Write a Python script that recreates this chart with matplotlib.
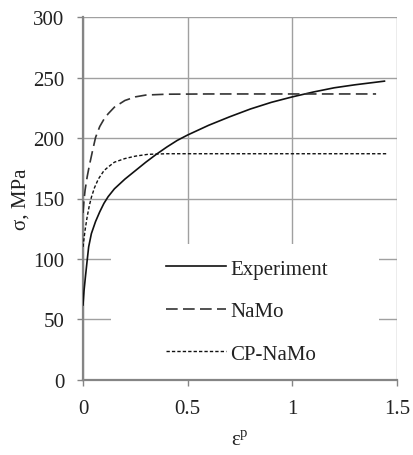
import matplotlib
matplotlib.use("Agg")
import matplotlib.pyplot as plt
from matplotlib.patches import Rectangle

plt.rcParams["font.family"] = ["Liberation Serif", "DejaVu Serif"]
plt.rcParams["mathtext.fontset"] = "custom"
plt.rcParams["mathtext.rm"] = "Liberation Serif"
plt.rcParams["font.size"] = 15

# plastic strain vs. flow stress
exp_strain = [0, 0.005, 0.012, 0.02, 0.027, 0.04, 0.06, 0.08, 0.1, 0.12, 0.15, 0.2,
              0.25, 0.3, 0.35, 0.4, 0.45, 0.5, 0.55, 0.6, 0.65, 0.7, 0.8, 0.9, 1.0,
              1.1, 1.2, 1.3, 1.44]
exp_stress = [62, 74, 86, 99, 110, 121, 131, 139, 146, 151.5, 158, 166,
              173, 180, 186.5, 192.5, 198, 202.5, 206.5, 210.5, 214, 217.5, 224, 229.5, 234,
              238, 241.5, 244, 247]

namo_strain = [0, 0.005, 0.01, 0.02, 0.03, 0.045, 0.06, 0.08, 0.1, 0.12, 0.15, 0.2,
               0.25, 0.3, 0.4, 0.6, 1.0, 1.40]
namo_stress = [138, 149, 157, 168, 177, 189, 200.5, 209.5, 215.5, 220, 225.5, 231,
               234, 235.5, 236.2, 236.4, 236.4, 236.4]

cp_strain = [0, 0.01, 0.02, 0.03, 0.04, 0.055, 0.073, 0.1, 0.12, 0.15, 0.2, 0.25,
             0.31, 0.4, 0.6, 1.0, 1.45]
cp_stress = [110, 124, 135, 144, 151, 159, 166, 173, 176, 180, 183, 185,
             186.5, 187, 187, 187, 187]

fig = plt.figure(figsize=(4.14, 4.56), dpi=100)
ax = fig.add_axes([0.2005, 0.1645, 0.7585, 0.796])

ax.plot(exp_strain, exp_stress, color="#111111", lw=1.2, label="Experiment", zorder=3)
ax.plot(namo_strain, namo_stress, color="#333333", lw=1.2, dashes=(7, 3.2),
        label="NaMo", zorder=3)
ax.plot(cp_strain, cp_stress, color="#111111", lw=1.0, dashes=(2.4, 1.5),
        label="CP-NaMo", zorder=3)

ax.set_xlim(0, 1.5)
ax.set_ylim(0, 300)
ax.set_xticks([0, 0.5, 1, 1.5])
ax.set_xticklabels(["0", "0.5", "1", "1.5"])
ax.set_yticks(range(0, 301, 50))

ax.grid(True, color="#a0a0a0", lw=1.0)
ax.set_axisbelow(True)
for side in ("top", "right"):
    ax.spines[side].set_visible(False)
for side in ("left", "bottom"):
    ax.spines[side].set_color("#858585")
    ax.spines[side].set_linewidth(1.6)
ax.tick_params(direction="out", length=4.5, width=1.0, color="#858585",
               pad=9, labelcolor="#222222")

# white patch behind the legend hides the grid there
ax.add_patch(Rectangle((0.089, 0.0), 0.854, 0.375, transform=ax.transAxes,
                       facecolor="white", edgecolor="none", zorder=1))

ax.legend(loc="upper left", bbox_to_anchor=(0.264, 0.333), frameon=False,
          handlelength=2.9, handletextpad=0.2, labelspacing=1.1,
          borderpad=0, borderaxespad=0, fontsize=15, labelcolor="#222222")

ax.set_xlabel(r"ε$^\mathregular{p}$", color="#222222", labelpad=9)
ax.set_ylabel("σ, MPa", color="#222222", labelpad=2)

fig.savefig("out.png", dpi=100)
